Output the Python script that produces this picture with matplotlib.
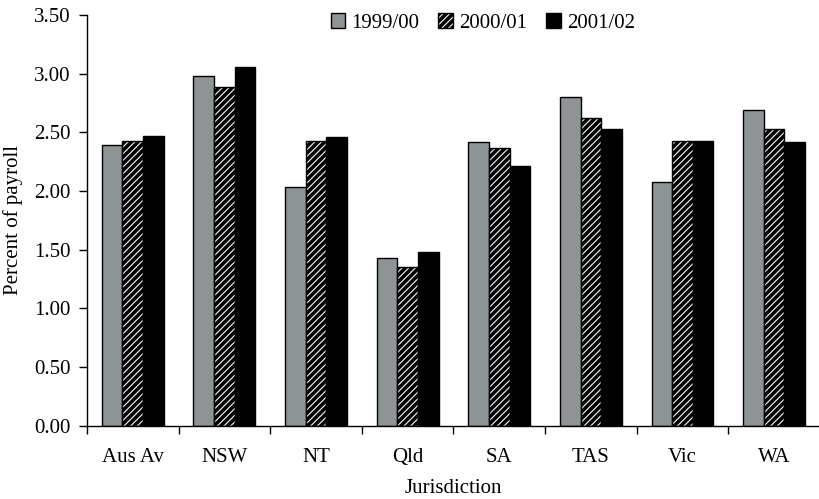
import numpy as np
import matplotlib
matplotlib.use('Agg')
import matplotlib.pyplot as plt

plt.rcParams['font.family'] = ['Liberation Serif', 'DejaVu Serif']
plt.rcParams['hatch.linewidth'] = 2.6

jurisdictions = ['Aus Av', 'NSW', 'NT', 'Qld', 'SA', 'TAS', 'Vic', 'WA']
years = ['1999/00', '2000/01', '2001/02']
pct_9900 = [2.39, 2.98, 2.03, 1.43, 2.42, 2.80, 2.08, 2.69]
pct_0001 = [2.43, 2.89, 2.43, 1.35, 2.37, 2.62, 2.43, 2.53]
pct_0102 = [2.47, 3.06, 2.46, 1.48, 2.21, 2.53, 2.43, 2.42]
yticks = [0.0, 0.5, 1.0, 1.5, 2.0, 2.5, 3.0, 3.5]

FS = 15

fig = plt.figure(figsize=(8.2, 4.99), dpi=100)
ax = fig.add_axes([0.106, 0.147, 0.894, 0.823])

x = np.arange(len(jurisdictions))
w = 0.225
styles = [dict(color='#8e9396', hatch=None),
          dict(color='white', hatch='/////'),
          dict(color='black', hatch=None)]
for k, (vals, st) in enumerate(zip([pct_9900, pct_0001, pct_0102], styles)):
    ax.bar(x + (k - 1) * w, vals, w, facecolor=st['color'], edgecolor='black',
           hatch=st['hatch'], linewidth=1.0, label=years[k], zorder=2)

ax.set_xlim(-0.5, len(jurisdictions) - 0.5)
ax.set_ylim(0, 3.5)
ax.set_yticks(yticks)
ax.set_yticklabels([f'{v:.2f}' for v in yticks])
# category boundaries carry the tick marks, names sit between them
ax.set_xticks(np.arange(len(jurisdictions) + 1) - 0.5, minor=False)
ax.set_xticklabels([])
ax.set_xticks(x, minor=True)
ax.set_xticklabels(jurisdictions, minor=True)
ax.tick_params(axis='x', which='major', direction='out', length=6, width=1)
ax.tick_params(axis='x', which='minor', length=0, pad=16, labelsize=FS)
ax.tick_params(axis='y', direction='out', length=6, width=1, labelsize=FS, pad=6)
for s in ['top', 'right']:
    ax.spines[s].set_visible(False)
ax.spines['left'].set_linewidth(1)
ax.spines['bottom'].set_linewidth(1)

ax.set_xlabel('Jurisdiction', fontsize=FS, labelpad=9)
ax.set_ylabel('Percent of payroll', fontsize=FS, labelpad=8)

ax.legend(loc='upper center', bbox_to_anchor=(0.54, 1.05), ncol=3, frameon=False,
          fontsize=FS, handlelength=0.7, handleheight=0.7, handletextpad=0.3,
          columnspacing=0.9)

fig.savefig('out.png', dpi=100)
